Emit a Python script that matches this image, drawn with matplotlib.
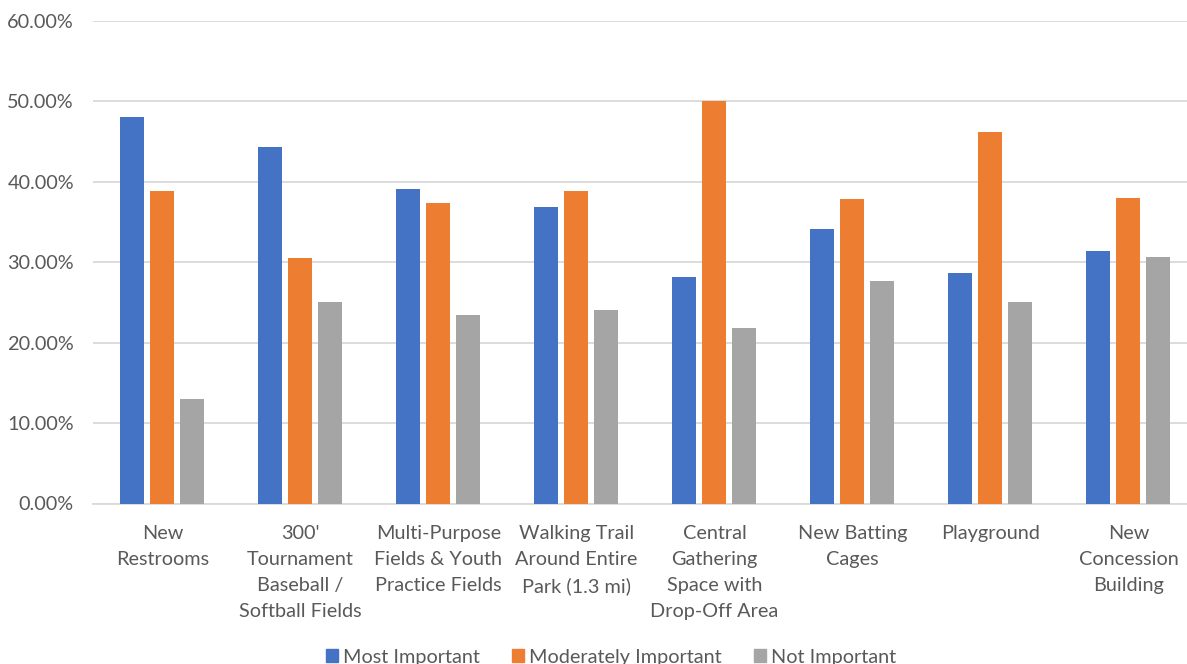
import numpy as np
import matplotlib
matplotlib.use('Agg')
import matplotlib.pyplot as plt
from matplotlib.patches import Patch
from matplotlib.ticker import FuncFormatter, MultipleLocator

categories = [
    'New\nRestrooms',
    "300'\nTournament\nBaseball /\nSoftball Fields",
    'Multi-Purpose\nFields & Youth\nPractice Fields',
    'Walking Trail\nAround Entire\nPark (1.3 mi)',
    'Central\nGathering\nSpace with\nDrop-Off Area',
    'New Batting\nCages',
    'Playground',
    'New\nConcession\nBuilding',
]
series_names = ['Most Important', 'Moderately Important', 'Not Important']
most_important = [48.1, 44.3, 39.1, 36.9, 28.2, 34.1, 28.7, 31.4]
moderately_important = [38.8, 30.5, 37.4, 38.8, 50.0, 37.9, 46.2, 38.0]
not_important = [13.0, 25.1, 23.4, 24.1, 21.8, 27.7, 25.0, 30.6]
colors = ['#4472C4', '#ED7D31', '#A5A5A5']

plt.rcParams['font.family'] = ['Lato', 'DejaVu Sans']
text_color = '#595959'
grid_color = '#d9d9d9'
fs = 14.3

W, H = 1187, 664
fig = plt.figure(figsize=(W / 100, H / 100), dpi=100)
# plot area runs a little past the right edge of the canvas
ax = fig.add_axes([93.4 / W, (H - 503.5) / H, 1104 / W, 482.5 / H])

x = np.arange(len(categories))
bar_w = 0.174
step = 0.217
for i, (vals, c) in enumerate(zip([most_important, moderately_important, not_important], colors)):
    ax.bar(x + (i - 1) * step, vals, width=bar_w, color=c, zorder=3)

ax.set_xlim(-0.5, len(categories) - 0.5)
ax.set_ylim(0, 60)
ax.yaxis.set_major_locator(MultipleLocator(10))
ax.yaxis.set_major_formatter(FuncFormatter(lambda v, _: f'{v:.2f}%'))
ax.grid(axis='y', color=grid_color, linewidth=1.3, zorder=0)
for s in ['top', 'right', 'left']:
    ax.spines[s].set_visible(False)
ax.spines['bottom'].set_color(grid_color)
ax.spines['bottom'].set_linewidth(1.3)

ax.set_xticks(x)
ax.set_xticklabels(categories, linespacing=1.64)
ax.tick_params(axis='both', length=0, labelsize=fs, colors=text_color)
ax.tick_params(axis='x', pad=15.5)
ax.tick_params(axis='y', pad=14)

handles = [Patch(color=c, label=n) for c, n in zip(colors, series_names)]
fig.legend(handles=handles, loc='center', bbox_to_anchor=(611 / W, 1 - 657 / H),
           ncol=3, frameon=False, fontsize=fs, labelcolor=text_color,
           handlelength=0.62, handleheight=0.62, handletextpad=0.25, columnspacing=1.6)

fig.savefig('out.png', dpi=100)
